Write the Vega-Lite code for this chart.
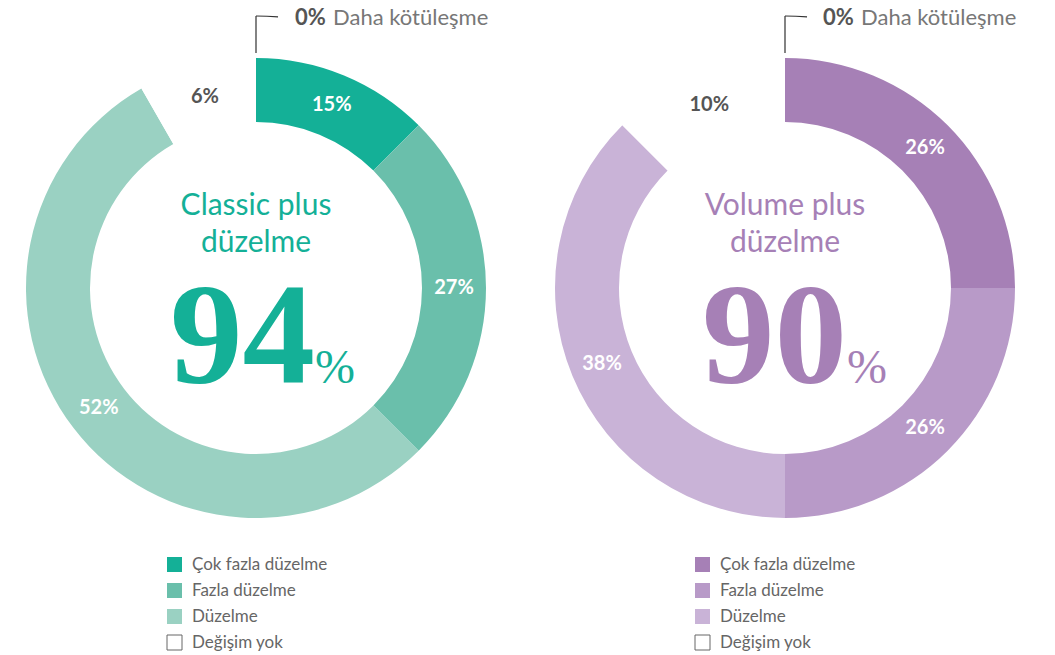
{
  "$schema": "https://vega.github.io/schema/vega-lite/v6.json",
  "background": "white",
  "padding": 0,
  "autosize": {"type": "pad"},
  "config": {"view": {"stroke": null}, "font": "Lato"},
  "datasets": {
    "d": [
      {"panel": "Classic", "category": "Daha kötüleşme", "share": 0, "k": 0, "label": "0%"},
      {"panel": "Classic", "category": "Çok fazla düzelme", "share": 12.5, "k": 1, "label": "15%"},
      {"panel": "Classic", "category": "Fazla düzelme", "share": 25, "k": 2, "label": "27%"},
      {"panel": "Classic", "category": "Düzelme", "share": 54.2, "k": 3, "label": "52%"},
      {"panel": "Classic", "category": "Değişim yok", "share": 8.3, "k": 4, "label": "6%"},
      {"panel": "Volume", "category": "Daha kötüleşme", "share": 0, "k": 0, "label": "0%"},
      {"panel": "Volume", "category": "Çok fazla düzelme", "share": 25, "k": 1, "label": "26%"},
      {"panel": "Volume", "category": "Fazla düzelme", "share": 25, "k": 2, "label": "26%"},
      {"panel": "Volume", "category": "Düzelme", "share": 37.5, "k": 3, "label": "38%"},
      {"panel": "Volume", "category": "Değişim yok", "share": 12.5, "k": 4, "label": "10%"}
    ]
  },
  "spacing": 17,
  "bounds": "flush",
  "resolve": {"scale": {"color": "independent", "theta": "independent"}, "legend": {"color": "independent"}},
  "hconcat": [
    {
      "width": 512,
      "height": 576,
      "data": {"name": "d"},
      "transform": [{"filter": "datum.panel === 'Classic'"}],
      "layer": [
        {
          "transform": [{"filter": "datum.category !== 'Daha kötüleşme'"}],
          "mark": {"type": "arc", "innerRadius": 166, "outerRadius": 230},
          "encoding": {
            "theta": {"field": "share", "type": "quantitative", "stack": true},
            "order": {"field": "k", "type": "quantitative"},
            "color": {
              "field": "category", "type": "nominal",
              "scale": {"domain": ["Çok fazla düzelme", "Fazla düzelme", "Düzelme", "Değişim yok"], "range": ["#14B097", "#6ABFAB", "#9AD1C2", "#FFFFFF"]},
              "legend": {
                "title": null, "orient": "none", "legendX": 166, "legendY": 556,
                "symbolType": "square", "symbolSize": 225, "symbolStrokeWidth": 1, "symbolOpacity": 1,
                "labelFontSize": 17, "labelColor": "#666", "labelFont": "Lato", "rowPadding": 7, "labelOffset": 9, "padding": 0,
                "encode": {"symbols": {"update": {"stroke": [{"test": "datum.value === 'Değişim yok'", "value": "#666"}, {"value": "transparent"}], "strokeWidth": {"value": 1}}}}
              }
            }
          }
        },
        {
          "transform": [{"filter": "datum.category !== 'Daha kötüleşme'"}],
          "mark": {"type": "text", "radius": 198, "fontSize": 20, "fontWeight": "bold", "baseline": "middle", "align": "center"},
          "encoding": {
            "theta": {"field": "share", "type": "quantitative", "stack": true},
            "order": {"field": "k", "type": "quantitative"},
            "text": {"field": "label"},
            "color": {"condition": {"test": "datum.category === 'Değişim yok'", "value": "#555555"}, "value": "#FFFFFF"}
          }
        },
        {
          "transform": [{"filter": "datum.category === 'Daha kötüleşme'"}],
          "mark": {"type": "arc", "theta": 0, "theta2": 0, "outerRadius": 272, "innerRadius": 235, "stroke": "#333333", "strokeWidth": 1.2, "fill": null},
          "encoding": {}
        },
        {
          "transform": [{"filter": "datum.category === 'Daha kötüleşme'"}],
          "mark": {"type": "arc", "theta": 0, "theta2": 0.081, "outerRadius": 272, "innerRadius": 272, "stroke": "#333333", "strokeWidth": 1.2, "fill": null},
          "encoding": {}
        },
        {
          "transform": [{"filter": "datum.category === 'Daha kötüleşme'"}],
          "mark": {"type": "text", "theta": 0, "radius": 270, "align": "left", "baseline": "middle", "dx": 39, "fontSize": 22, "fontWeight": "bold", "color": "#555555"},
          "encoding": {"text": {"field": "label"}}
        },
        {
          "transform": [{"filter": "datum.category === 'Daha kötüleşme'"}],
          "mark": {"type": "text", "theta": 0, "radius": 270, "align": "left", "baseline": "middle", "dx": 77, "fontSize": 22, "color": "#777777"},
          "encoding": {"text": {"field": "category"}}
        },
        {
          "transform": [{"filter": "datum.category === 'Daha kötüleşme'"}],
          "mark": {"type": "text", "align": "center", "baseline": "alphabetic", "dy": -73, "lineHeight": 37, "fontSize": 30, "color": "#14B097"},
          "encoding": {"text": {"value": ["Classic plus", "düzelme"]}}
        },
        {
          "transform": [{"filter": "datum.category === 'Daha kötüleşme'"}],
          "mark": {"type": "text", "align": "right", "baseline": "alphabetic", "dx": 59, "dy": 95, "fontSize": 145, "font": "Liberation Serif", "fontWeight": "bold", "color": "#14B097"},
          "encoding": {"text": {"value": "94"}}
        },
        {
          "transform": [{"filter": "datum.category === 'Daha kötüleşme'"}],
          "mark": {"type": "text", "align": "left", "baseline": "alphabetic", "dx": 59, "dy": 95, "fontSize": 48, "font": "Liberation Serif", "color": "#14B097"},
          "encoding": {"text": {"value": "%"}}
        }
      ]
    },
    {
      "width": 512,
      "height": 576,
      "data": {"name": "d"},
      "transform": [{"filter": "datum.panel === 'Volume'"}],
      "layer": [
        {
          "transform": [{"filter": "datum.category !== 'Daha kötüleşme'"}],
          "mark": {"type": "arc", "innerRadius": 166, "outerRadius": 230},
          "encoding": {
            "theta": {"field": "share", "type": "quantitative", "stack": true},
            "order": {"field": "k", "type": "quantitative"},
            "color": {
              "field": "category", "type": "nominal",
              "scale": {"domain": ["Çok fazla düzelme", "Fazla düzelme", "Düzelme", "Değişim yok"], "range": ["#A680B6", "#B89AC8", "#C9B3D7", "#FFFFFF"]},
              "legend": {
                "title": null, "orient": "none", "legendX": 165, "legendY": 556,
                "symbolType": "square", "symbolSize": 225, "symbolStrokeWidth": 1, "symbolOpacity": 1,
                "labelFontSize": 17, "labelColor": "#666", "labelFont": "Lato", "rowPadding": 7, "labelOffset": 9, "padding": 0,
                "encode": {"symbols": {"update": {"stroke": [{"test": "datum.value === 'Değişim yok'", "value": "#666"}, {"value": "transparent"}], "strokeWidth": {"value": 1}}}}
              }
            }
          }
        },
        {
          "transform": [{"filter": "datum.category !== 'Daha kötüleşme'"}],
          "mark": {"type": "text", "radius": 198, "fontSize": 20, "fontWeight": "bold", "baseline": "middle", "align": "center"},
          "encoding": {
            "theta": {"field": "share", "type": "quantitative", "stack": true},
            "order": {"field": "k", "type": "quantitative"},
            "text": {"field": "label"},
            "color": {"condition": {"test": "datum.category === 'Değişim yok'", "value": "#555555"}, "value": "#FFFFFF"}
          }
        },
        {
          "transform": [{"filter": "datum.category === 'Daha kötüleşme'"}],
          "mark": {"type": "arc", "theta": 0, "theta2": 0, "outerRadius": 272, "innerRadius": 235, "stroke": "#333333", "strokeWidth": 1.2, "fill": null},
          "encoding": {}
        },
        {
          "transform": [{"filter": "datum.category === 'Daha kötüleşme'"}],
          "mark": {"type": "arc", "theta": 0, "theta2": 0.081, "outerRadius": 272, "innerRadius": 272, "stroke": "#333333", "strokeWidth": 1.2, "fill": null},
          "encoding": {}
        },
        {
          "transform": [{"filter": "datum.category === 'Daha kötüleşme'"}],
          "mark": {"type": "text", "theta": 0, "radius": 270, "align": "left", "baseline": "middle", "dx": 38, "fontSize": 22, "fontWeight": "bold", "color": "#555555"},
          "encoding": {"text": {"field": "label"}}
        },
        {
          "transform": [{"filter": "datum.category === 'Daha kötüleşme'"}],
          "mark": {"type": "text", "theta": 0, "radius": 270, "align": "left", "baseline": "middle", "dx": 76, "fontSize": 22, "color": "#777777"},
          "encoding": {"text": {"field": "category"}}
        },
        {
          "transform": [{"filter": "datum.category === 'Daha kötüleşme'"}],
          "mark": {"type": "text", "align": "center", "baseline": "alphabetic", "dy": -73, "lineHeight": 37, "fontSize": 30, "color": "#A680B6"},
          "encoding": {"text": {"value": ["Volume plus", "düzelme"]}}
        },
        {
          "transform": [{"filter": "datum.category === 'Daha kötüleşme'"}],
          "mark": {"type": "text", "align": "right", "baseline": "alphabetic", "dx": 62, "dy": 95, "fontSize": 145, "font": "Liberation Serif", "fontWeight": "bold", "color": "#A680B6"},
          "encoding": {"text": {"value": "90"}}
        },
        {
          "transform": [{"filter": "datum.category === 'Daha kötüleşme'"}],
          "mark": {"type": "text", "align": "left", "baseline": "alphabetic", "dx": 62, "dy": 95, "fontSize": 48, "font": "Liberation Serif", "color": "#A680B6"},
          "encoding": {"text": {"value": "%"}}
        }
      ]
    }
  ]
}
